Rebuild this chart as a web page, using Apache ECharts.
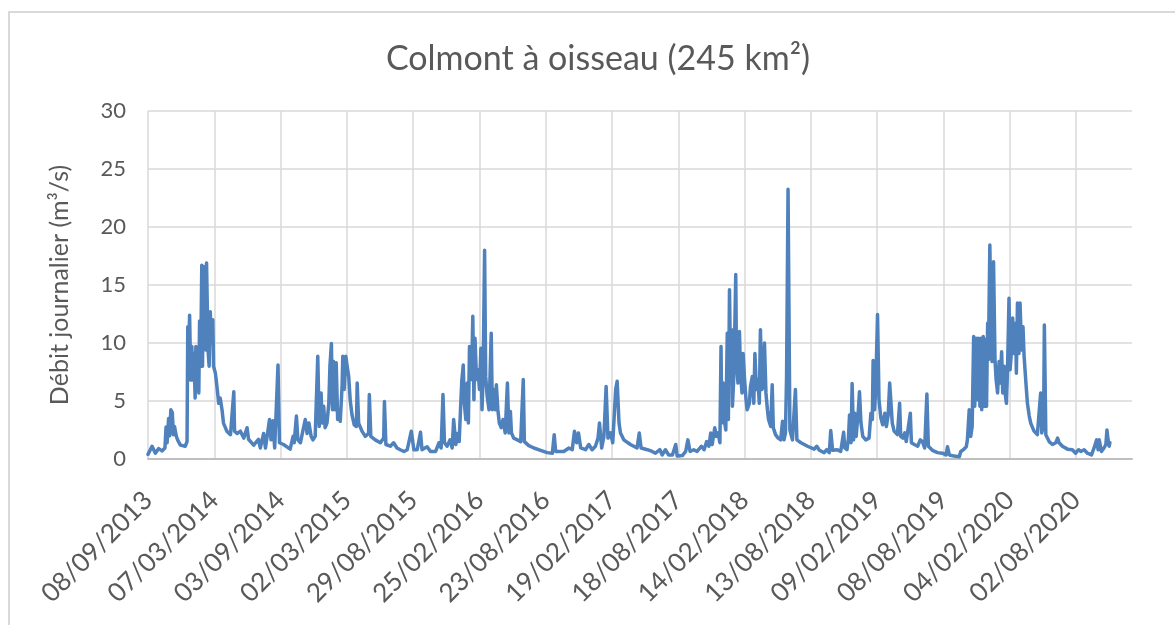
<!DOCTYPE html>
<html>
<head>
<meta charset="utf-8">
<script src="https://cdn.jsdelivr.net/npm/echarts@6/dist/echarts.min.js"></script>
<style>
html,body{margin:0;padding:0;background:#fff;}
#chart{width:1175px;height:625px;}
</style>
</head>
<body>
<div id="chart"></div>
<script>
// Start date of the series: 08/09/2013 ; x values are days since that date
var startDate = [2013, 9, 8];
var titleText = 'Colmont à oisseau (245 km²)';
var yAxisName = 'Débit journalier (m³/s)';
var yTicks = [0, 5, 10, 15, 20, 25, 30];
var tickStepDays = 180;
var axisEndDay = 2672;

// Days since start
var days = [
0,11,20,29,38,46,49,52,56,59,62,66,69,72,77,81,88,101,106,108,111,113,116,119,122,125,128,130,133,136,138,140,143,146,148,151,154,157,159,163,166,169,172,176,178,183,187,192,196,201,205,214,224,233,235,242,251,260,269,273,287,300,305,314,319,330,334,339,344,353,357,368,386,394,397,403,407,414,421,427,432,437,443,448,454,461,465,470,473,477,481,486,491,494,498,501,504,508,511,515,519,522,527,529,533,537,541,545,549,554,560,566,568,572,581,590,599,601,605,617,631,640,642,646,658,667,676,685,
695,704,715,722,731,740,744,758,767,781,790,796,801,805,812,820,826,830,836,841,845,849,852,856,859,863,867,870,873,877,879,882,885,888,892,896,900,904,907,910,914,917,921,926,928,932,935,939,943,946,950,954,959,964,970,976,980,984,987,993,1003,1012,1019,1022,1034,1048,1066,1084,1098,1103,1107,1129,1143,1152,1158,1164,1169,1175,1188,1197,1206,1215,1222,1226,1232,1238,1244,1249,1256,1262,1270,1274,1279,1283,1292,1310,1328,1334,1339,1356,1369,1378,1390,1396,1405,1414,1424,1433,1437,1451,1460,1466,1472,1482,1491,1503,1510,1517,1523,1528,1532,1539,1543,1548,1553,1556,1558,1562,1566,1569,1573,1576,1579,1582,1585,1587,1590,1593,1596,1598,1602,1606,1609,1613,1616,1620,1624,1627,1633,1636,1641,1645,1648,1652,1656,1660,1663,1667,1671,1674,1678,1682,1685,1691,1695,1698,1704,1711,1718,1723,1727,1731,1734,1738,
1743,1750,1758,1762,1773,1791,1809,1816,1823,1836,1843,1850,1854,1859,1872,1881,1889,1892,1898,1902,1905,1909,1912,1916,1919,1923,1929,1932,1936,1941,1949,1958,1963,1967,1969,1973,1976,1981,1985,1990,1995,2001,2005,2010,2014,2017,2021,2026,2035,2041,2044,2050,2055,2059,2064,2070,2073,2081,2090,2097,2103,2109,2115,2119,2130,2144,2157,2167,2171,2176,2189,2203,2207,2214,2222,2225,2230,2234,2238,2242,2245,2249,2252,2255,2259,2262,2264,2268,2271,2274,2277,2280,2282,2286,2290,2292,2296,2300,2303,2307,2311,2314,2318,2321,2325,2328,2331,2334,2338,2341,2345,2348,2352,2356,2358,2361,2365,2368,2372,2376,2379,2384,2388,2393,2397,2402,2406,2411,2415,2420,2424,2427,2432,2434,2438,2447,2456,2465,2470,2474,2483,2497,2510,2519,2527,2533,2542,2551,2562,2569,2576,2580,2583,2589,2596,2601,2604,2607,2610,2612
];

// Daily discharge (m3/s) at those days
var flow = [
0.4,1.1,0.5,0.9,0.7,0.95,2.75,1.4,3.5,2.0,4.25,4.0,2.1,2.8,1.95,1.6,1.2,1.1,1.5,11.4,10.0,12.4,6.8,9.7,6.8,9.1,5.25,9.7,6.5,8.8,5.7,11.9,8.0,16.7,8.0,16.6,11.0,9.4,16.9,9.4,8.0,12.7,10.0,12.0,8.0,7.4,6.3,4.8,5.25,4.25,3.1,2.4,2.1,5.8,2.4,2.2,2.4,1.8,2.7,1.7,1.2,1.7,0.95,2.2,0.95,3.4,1.65,3.3,0.95,8.1,1.4,1.25,0.85,1.95,1.4,3.7,1.65,1.4,2.5,3.4,2.2,3.1,1.95,1.65,1.95,8.85,2.8,5.7,3.1,4.55,2.7,3.1,4.8,8.0,9.95,4.25,8.4,4.25,8.3,3.4,4.25,3.25,6.25,8.85,6.0,8.85,9.0,7.1,5.1,3.8,2.95,2.8,6.55,3.1,2.4,1.95,2.2,5.55,1.95,1.65,1.4,1.8,4.95,1.25,1.1,1.4,0.95,0.8,
0.65,0.8,2.4,0.8,0.8,2.3,0.8,1.05,0.65,0.65,1.4,0.95,5.55,1.4,1.1,1.65,0.95,3.4,1.25,2.2,1.5,4.55,6.7,8.1,4.8,3.4,6.55,3.1,9.7,6.85,7.7,12.3,5.1,10.4,6.85,7.7,6.0,9.55,4.25,7.1,18.0,7.1,5.4,4.25,6.25,10.85,4.25,6.0,4.25,6.4,4.25,3.1,2.7,3.4,2.25,6.55,2.25,4.1,2.25,1.8,1.65,1.5,6.85,1.5,1.15,0.95,0.75,0.55,0.5,2.1,0.65,0.65,0.95,0.8,2.4,1.4,2.25,0.95,0.8,1.25,0.8,1.1,1.8,3.1,0.95,1.95,6.25,1.8,2.25,1.4,6.0,6.7,3.1,2.25,1.65,1.25,0.95,2.25,0.95,0.8,0.65,0.5,0.8,0.35,0.8,0.35,0.35,1.25,0.25,0.3,0.65,1.65,0.65,0.8,0.65,1.1,0.8,1.5,1.1,2.25,1.25,2.7,1.95,2.25,1.4,9.7,3.1,6.55,3.1,2.5,10.85,3.4,14.6,7.7,11.15,4.55,6.55,10.55,15.9,8.3,6.55,11.0,7.4,5.7,9.1,6.85,5.1,4.25,4.8,6.25,7.1,4.8,9.1,6.0,6.85,4.8,11.15,6.0,6.25,10.0,5.7,4.25,3.4,2.8,6.4,2.7,2.1,1.8,1.65,3.25,1.65,2.25,7.1,23.25,
2.5,1.65,6.0,1.65,1.4,1.1,0.85,1.1,0.75,0.55,0.8,0.55,2.45,0.75,0.8,0.65,2.3,0.95,0.8,1.8,3.8,1.4,6.5,1.65,3.95,1.95,4.25,5.8,3.1,1.95,1.65,1.8,3.95,3.4,8.5,4.25,6.0,12.45,5.1,3.55,2.95,3.95,2.8,3.8,6.55,5.1,3.1,2.4,2.1,4.8,1.95,1.8,2.25,1.5,1.65,3.95,1.4,1.25,1.1,1.65,1.5,0.95,5.6,1.1,0.75,0.55,0.5,0.35,1.05,0.35,0.25,0.2,0.65,0.8,1.05,1.65,4.25,1.95,2.8,10.55,4.55,10.4,5.1,10.4,4.55,10.4,4.25,10.55,4.55,10.3,4.55,11.7,8.55,18.45,9.4,8.4,17.0,8.55,6.85,5.7,8.4,6.55,9.25,5.7,8.0,5.55,4.8,7.7,13.85,7.7,9.4,12.15,9.1,11.7,7.4,13.45,9.1,13.45,9.4,11.4,8.85,6.55,4.8,3.7,3.1,2.7,2.4,2.25,2.1,1.95,5.7,2.25,3.1,11.55,2.1,1.5,1.25,1.4,1.8,1.4,1.1,0.85,0.8,0.5,0.8,0.65,0.8,0.5,0.35,0.95,1.65,0.8,1.65,0.65,0.95,1.25,2.5,1.65,1.1,1.4
];

function pad(n){ return (n < 10 ? '0' : '') + n; }
function dayLabel(v){
  var t = Date.UTC(startDate[0], startDate[1] - 1, startDate[2]) + v * 86400000;
  var d = new Date(t);
  return pad(d.getUTCDate()) + '/' + pad(d.getUTCMonth() + 1) + '/' + d.getUTCFullYear();
}

var seriesData = days.map(function(d, i){ return [d, flow[i]]; });

var chart = echarts.init(document.getElementById('chart'), null, {renderer: 'canvas'});
var textColor = '#595959';
var fontFam = 'Lato, "Open Sans", sans-serif';

chart.setOption({
  animation: false,
  backgroundColor: '#ffffff',
  graphic: [
    {
      type: 'rect',
      shape: {x: 9, y: 12, width: 1300, height: 700},
      style: {fill: 'none', stroke: '#d9d9d9', lineWidth: 2},
      silent: true, z: -10
    },
    {
      type: 'text',
      x: 598, y: 59,
      style: {
        text: titleText,
        fill: textColor,
        font: '34px ' + fontFam,
        textAlign: 'center',
        textVerticalAlign: 'middle'
      }
    }
  ],
  grid: {left: 148, right: 43, top: 111, bottom: 166, containLabel: false},
  xAxis: {
    type: 'value',
    min: 0,
    max: axisEndDay,
    interval: tickStepDays,
    axisLine: {show: true, lineStyle: {color: '#bfbfbf', width: 2}},
    axisTick: {show: false},
    splitLine: {show: true, showMaxLine: false, lineStyle: {color: '#d9d9d9', width: 1.5}},
    axisLabel: {
      rotate: 45,
      margin: 37,
      color: textColor,
      fontFamily: fontFam,
      fontSize: 26,
      showMaxLabel: false,
      formatter: function(v){ return v > 2600 ? '' : dayLabel(v); }
    }
  },
  yAxis: {
    type: 'value',
    min: yTicks[0],
    max: yTicks[yTicks.length - 1],
    interval: 5,
    name: yAxisName,
    nameLocation: 'middle',
    nameGap: 76,
    nameTextStyle: {color: textColor, fontFamily: fontFam, fontSize: 25},
    axisLine: {show: false},
    axisTick: {show: false},
    splitLine: {show: true, lineStyle: {color: '#d9d9d9', width: 1.5}},
    axisLabel: {color: textColor, fontFamily: fontFam, fontSize: 22, margin: 22}
  },
  series: [{
    type: 'line',
    data: seriesData,
    showSymbol: false,
    symbol: 'none',
    lineStyle: {color: '#4F81BD', width: 3.5, join: 'round', cap: 'round'},
    itemStyle: {color: '#4F81BD'}
  }]
});
</script>
</body>
</html>
